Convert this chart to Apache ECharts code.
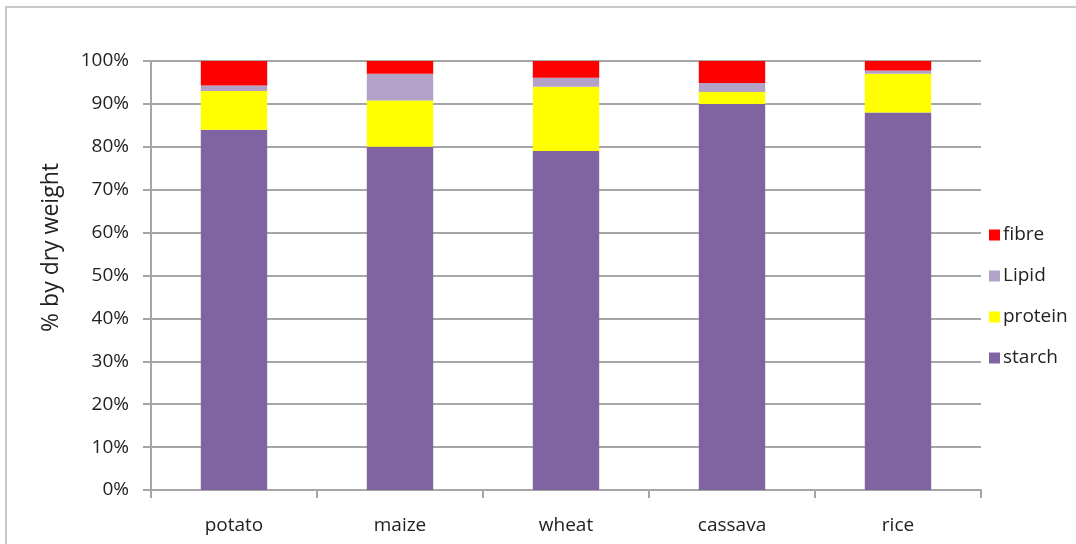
<!DOCTYPE html>
<html>
<head>
<meta charset="utf-8">
<script src="https://cdn.jsdelivr.net/npm/echarts@6/dist/echarts.min.js"></script>
<style>
  html, body { margin: 0; padding: 0; background: #fff; }
  #chart { width: 1076px; height: 544px; }
</style>
</head>
<body>
<div id="chart"></div>
<script>
var chart = echarts.init(document.getElementById('chart'));

// data (% of dry weight)
var crops = ['potato', 'maize', 'wheat', 'cassava', 'rice'];
var starch = [84, 80, 79, 90, 88];
var protein = [9, 10.8, 15, 2.8, 9];
var lipid = [1.3, 6.2, 2.1, 2.1, 0.8];
var fibre = [5.7, 3, 3.9, 5.1, 2.2];
var yTicks = [0, 10, 20, 30, 40, 50, 60, 70, 80, 90, 100];

var font = 'Open Sans';
var textColor = '#222';
var axisGray = '#a6a6a6';

function barSeries(name, data, color) {
    return {
        name: name,
        type: 'bar',
        stack: 'total',
        barWidth: '40%',
        data: data,
        itemStyle: { color: color },
        animation: false
    };
}

var option = {
    backgroundColor: '#fff',
    graphic: [{
        type: 'rect',
        shape: { x: 6, y: 7, width: 1200, height: 700 },
        style: { fill: 'none', stroke: '#c8c8c8', lineWidth: 2 },
        silent: true
    }],
    grid: {
        left: 151,
        right: 95,
        top: 61,
        bottom: 54
    },
    legend: {
        orient: 'vertical',
        left: 984,
        top: 220,
        icon: 'rect',
        itemWidth: 11,
        itemHeight: 11,
        itemGap: 21,
        data: ['fibre', 'Lipid', 'protein', 'starch'],
        textStyle: {
            fontFamily: font,
            fontSize: 19,
            lineHeight: 20,
            color: textColor,
            padding: [0, 0, 0, -2]
        }
    },
    xAxis: {
        type: 'category',
        data: crops,
        axisLine: { lineStyle: { color: axisGray, width: 2 } },
        axisTick: { show: true, length: 8, lineStyle: { color: axisGray, width: 2 } },
        axisLabel: {
            fontFamily: font,
            fontSize: 19,
            color: textColor,
            margin: 26
        }
    },
    yAxis: {
        type: 'value',
        min: yTicks[0],
        max: yTicks[yTicks.length - 1],
        interval: 10,
        name: '% by dry weight',
        nameLocation: 'middle',
        nameRotate: 90,
        nameGap: 88,
        nameTextStyle: {
            fontFamily: font,
            fontSize: 23,
            color: textColor,
            padding: [0, 0, 0, 56]
        },
        axisLine: { show: true, lineStyle: { color: axisGray, width: 2 } },
        axisTick: { show: true, length: 8, lineStyle: { color: axisGray, width: 2 } },
        splitLine: { lineStyle: { color: axisGray, width: 2 } },
        axisLabel: {
            fontFamily: font,
            fontSize: 19,
            color: textColor,
            margin: 22,
            formatter: '{value}%'
        }
    },
    series: [
        barSeries('starch', starch, '#8064A2'),
        barSeries('protein', protein, '#FFFF00'),
        barSeries('Lipid', lipid, '#B2A2C7'),
        barSeries('fibre', fibre, '#FF0000')
    ]
};
chart.setOption(option);
</script>
</body>
</html>
